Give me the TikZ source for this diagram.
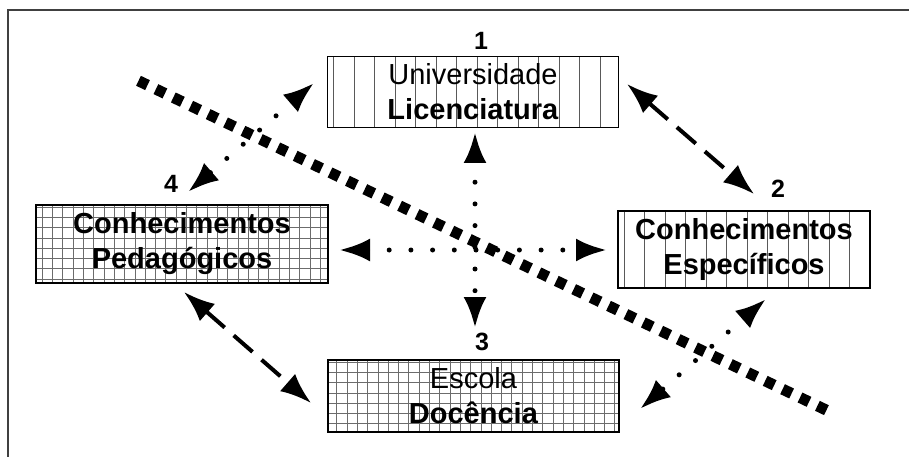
\documentclass[tikz,border=0pt]{standalone}
\usepackage{fontspec}
\setmainfont{Liberation Sans}
\usetikzlibrary{arrows.meta}

\tikzset{
    caixa/.style={draw, line width=1.2pt, align=center, inner sep=0pt,
        font=\fontsize{29}{35}\selectfont},
    listras/.style={path picture={
        \foreach \i in {0,...,15}
            \draw [gray!70!black, line width=0.9pt]
                ([xshift=6pt+\i*20.5pt]path picture bounding box.north west) --
                ([xshift=6pt+\i*20.5pt]path picture bounding box.south west);
    }},
    quadriculado/.style={path picture={
        \draw [gray!85!black, line width=0.9pt, step=10.3pt]
            (path picture bounding box.south west) grid
            (path picture bounding box.north east);
    }},
    numero/.style={font=\fontsize{25}{29}\selectfont\bfseries},
    tracejado/.style={<->, line width=4pt, dash pattern=on 25pt off 12pt},
    pontilhado/.style={<->, line width=5pt, line cap=round,
        dash pattern=on 0pt off 21.7pt},
    divisao/.style={line width=11pt, dash pattern=on 10pt off 9.3pt}
}

\begin{document}
\begin{tikzpicture}[x=1pt, y=-1pt, >={Latex[length=31pt,width=23pt]}]
        \useasboundingbox (0,0) rectangle (909,457);

        % moldura
        \draw [line width=1.2pt, black!75] (8,457) -- (8,10) -- (909,10);

        % caixas
        \node [caixa, listras, minimum width=291, minimum height=71]
            (univ) at (473,92) {Universidade\\\textbf{Licenciatura}};
        \node [caixa, listras, minimum width=252, minimum height=77]
            (espec) at (744,249.5) {\textbf{Conhecimentos}\\\textbf{Específicos}};
        \node [caixa, quadriculado, minimum width=291, minimum height=72]
            (escola) at (473.5,396) {Escola\\\textbf{Docência}};
        \node [caixa, quadriculado, minimum width=292, minimum height=78]
            (pedag) at (182,244) {\textbf{Conhecimentos}\\\textbf{Pedagógicos}};

        % numeros
        \node [numero] (n1) at (481,41) {1};
        \node [numero] (n2) at (778,189) {2};
        \node [numero] (n3) at (482,342) {3};
        \node [numero] (n4) at (171,184) {4};

        % pontas das setas
        \coordinate (A1) at (627,84);
        \coordinate (A2) at (754,194);
        \coordinate (B1) at (184,292);
        \coordinate (B2) at (311,403);
        \coordinate (C1) at (314,83);
        \coordinate (C2) at (188,192);
        \coordinate (D1) at (475,132);
        \coordinate (D2) at (475,328);
        \coordinate (E1) at (339,250);
        \coordinate (E2) at (607,250);
        \coordinate (F1) at (766,299);
        \coordinate (F2) at (640,409);

        % setas tracejadas
        \draw [tracejado] (A1) -- (A2);
        \draw [tracejado] (B1) -- (B2);

        % setas pontilhadas
        \draw [pontilhado] (C1) -- (C2);
        \draw [pontilhado] (D1) -- (D2);
        \draw [pontilhado] (E1) -- (E2);
        \draw [pontilhado] (F1) -- (F2);

        % linha diagonal
        \coordinate (P) at (138.5,80.8);
        \coordinate (Q) at (826.5,410.2);
        \draw [divisao] (P) -- (Q);

    \end{tikzpicture}
\end{document}
